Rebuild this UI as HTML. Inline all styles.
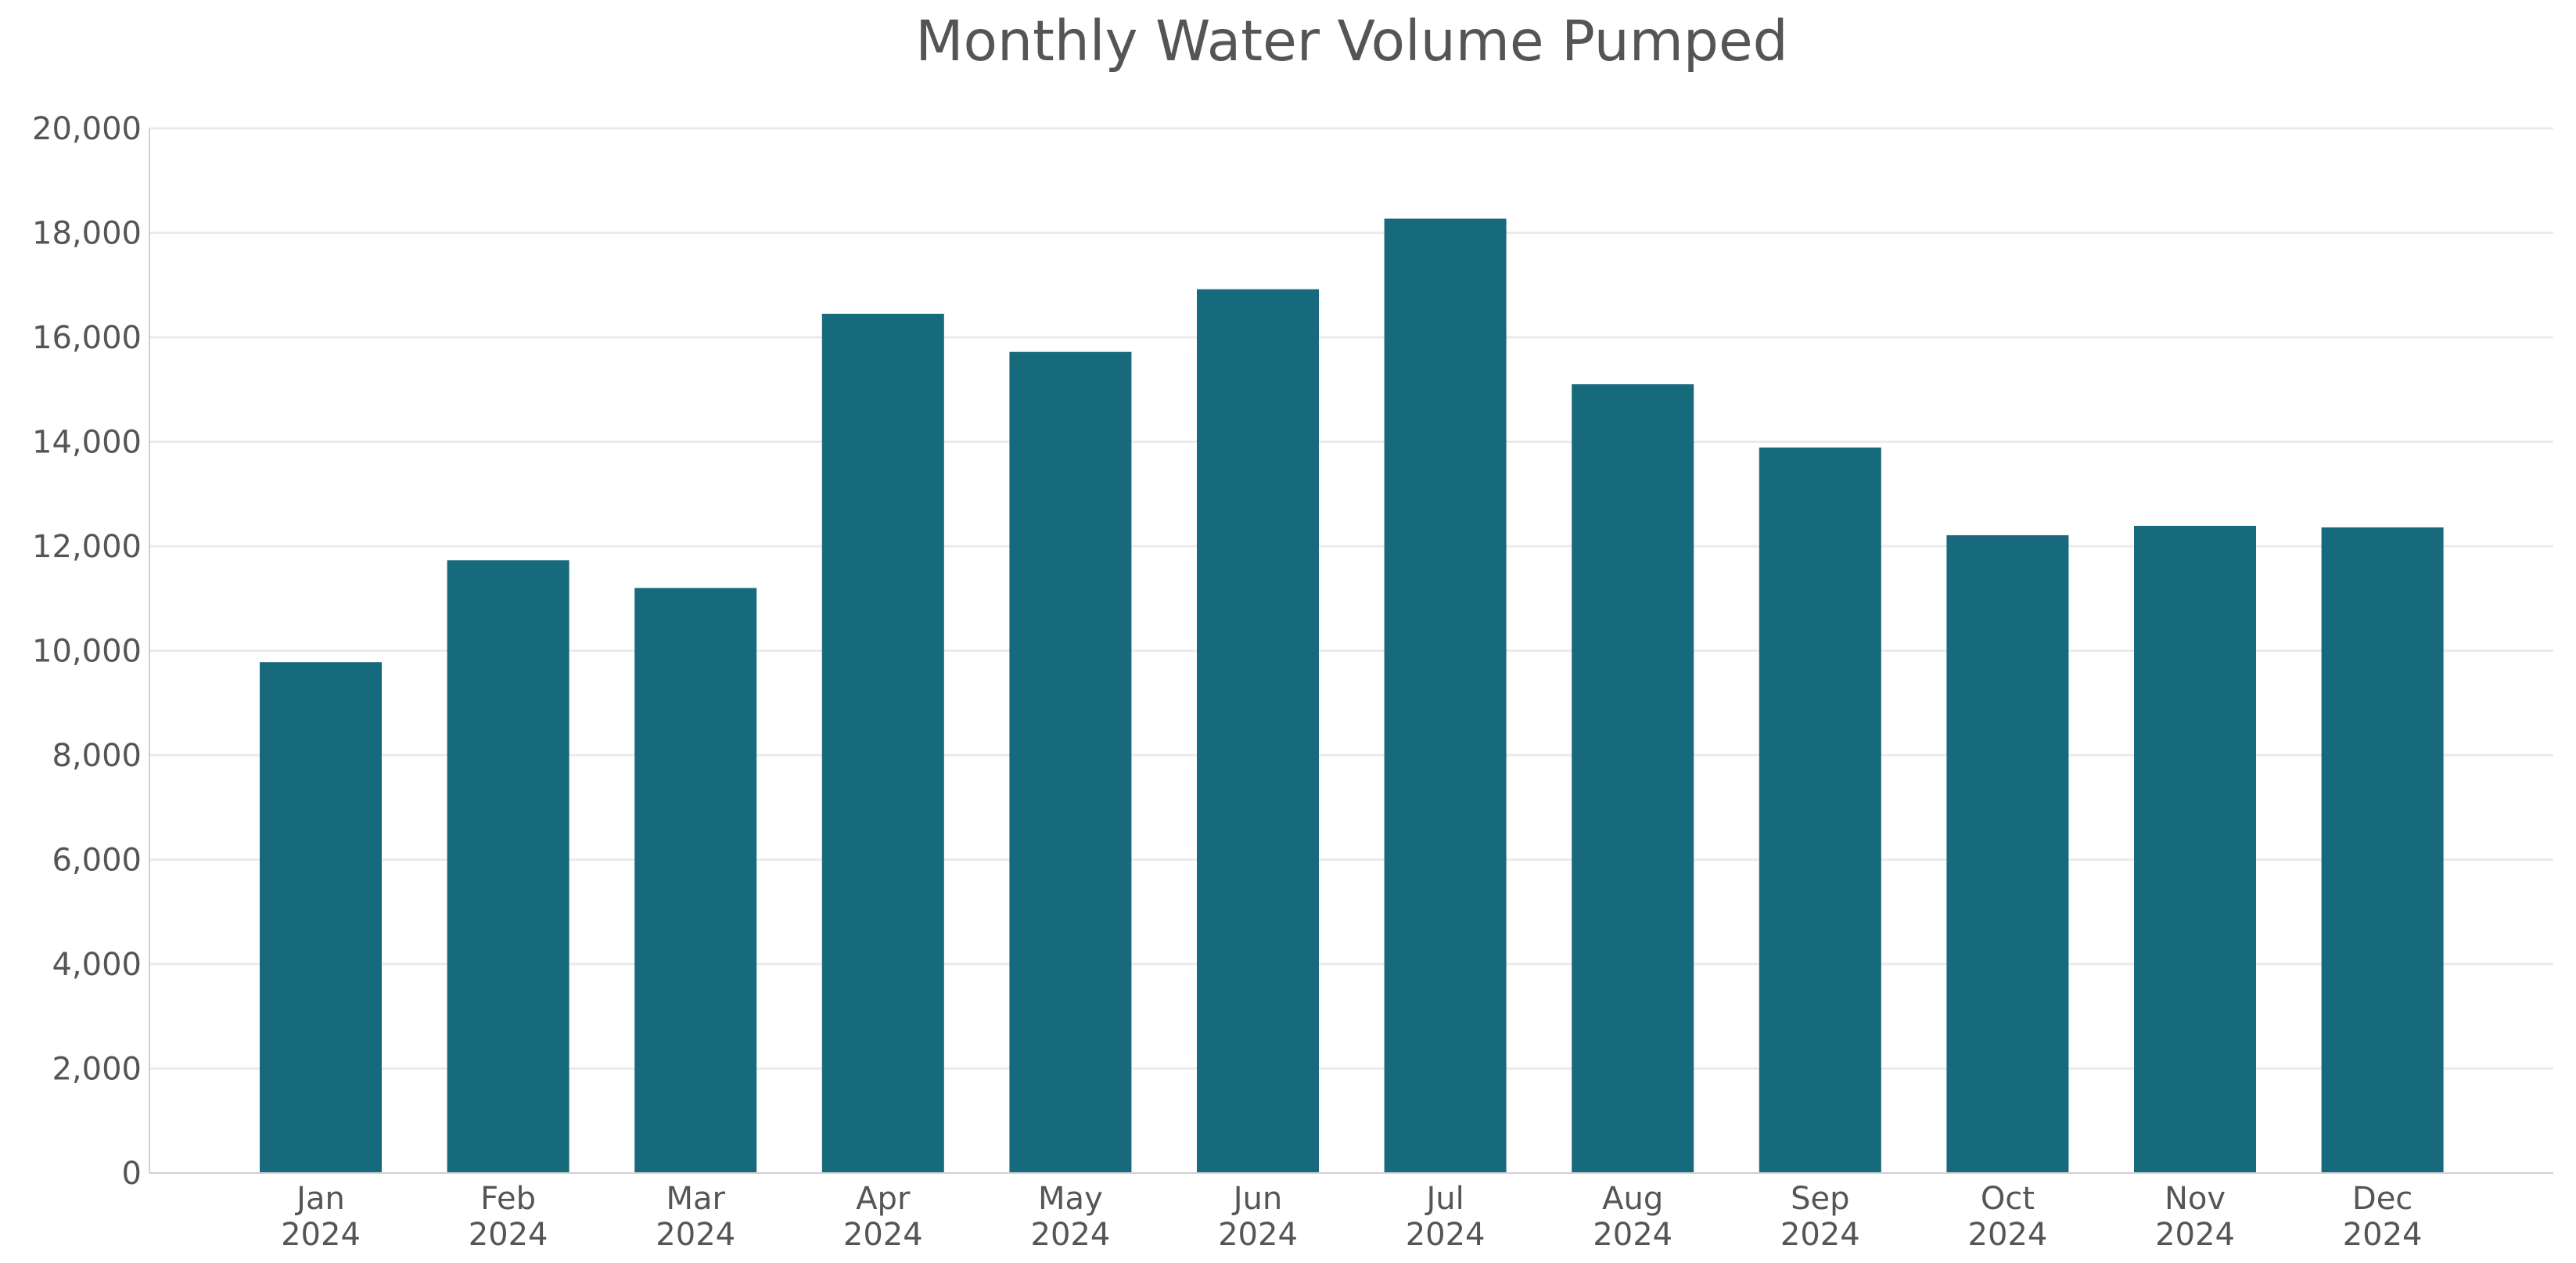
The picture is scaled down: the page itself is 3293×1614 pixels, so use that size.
<!DOCTYPE html>
<html><head><meta charset="utf-8"><style>
html,body{margin:0;padding:0;background:#fff;}
svg{display:block;font-family:"DejaVu Sans","Liberation Sans",sans-serif;}
</style></head><body>
<svg id="chart" width="3293" height="1614" viewBox="0 0 3293 1614">
<text x="1728" y="77" text-anchor="middle" font-size="71" fill="#555">Monthly Water Volume Pumped</text>
<g id="grid"></g>
<g id="yticks"></g>
<g id="bars"></g>
<g id="xticks"></g>
<line x1="191" y1="164" x2="191" y2="1499" stroke="#d0d0d0" stroke-width="2"/>
<line x1="191" y1="1499" x2="3264" y2="1499" stroke="#d0d0d0" stroke-width="2"/>
</svg>
<script>
const months = ["Jan","Feb","Mar","Apr","May","Jun","Jul","Aug","Sep","Oct","Nov","Dec"];
const years = ["2024","2024","2024","2024","2024","2024","2024","2024","2024","2024","2024","2024"];
const volumes = [9780,11730,11200,16450,15720,16920,18270,15100,13890,12210,12390,12360];
const yTicks = [0,2000,4000,6000,8000,10000,12000,14000,16000,18000,20000];
const yTickLabels = ["0","2,000","4,000","6,000","8,000","10,000","12,000","14,000","16,000","18,000","20,000"];

const NS="http://www.w3.org/2000/svg";
const top0=164,bottom0=1499,left0=191,right0=3264,yMax=20000;
function yScale(v){return bottom0-(v/yMax)*(bottom0-top0);}
const firstC=410,band=239.6,barW=156;
function xScale(i){return firstC+i*band;}
function mk(tag,attrs){const e=document.createElementNS(NS,tag);for(const k in attrs)e.setAttribute(k,attrs[k]);return e;}
const grid=document.getElementById('grid'),yt=document.getElementById('yticks'),bars=document.getElementById('bars'),xt=document.getElementById('xticks');
yTicks.forEach((t,i)=>{
  const y=yScale(t);
  if(t>0){const l=mk('line',{x1:left0,x2:right0,y1:y,y2:y,stroke:'#ebebeb','stroke-width':3});
  
  
  grid.appendChild(l);}
  const tx=mk('text',{x:181,y:y+14,'text-anchor':'end','font-size':40,fill:'#555'});
  tx.textContent=yTickLabels[i];
  
  
  yt.appendChild(tx);
});
volumes.forEach((v,i)=>{
  const c=xScale(i),y=yScale(v);
  const r=mk('rect',{x:c-barW/2,y:y,width:barW,height:bottom0-y,fill:'#176a7b'});
  
  
  bars.appendChild(r);
  const t=mk('text',{x:c,y:1545,'text-anchor':'middle','font-size':40,fill:'#555'});
  
  
  const s1=mk('tspan',{x:c,y:1545});s1.textContent=months[i];
  const s2=mk('tspan',{x:c,y:1591});s2.textContent=years[i];
  t.appendChild(s1);t.appendChild(s2);
  xt.appendChild(t);
});
</script>
</body></html>
